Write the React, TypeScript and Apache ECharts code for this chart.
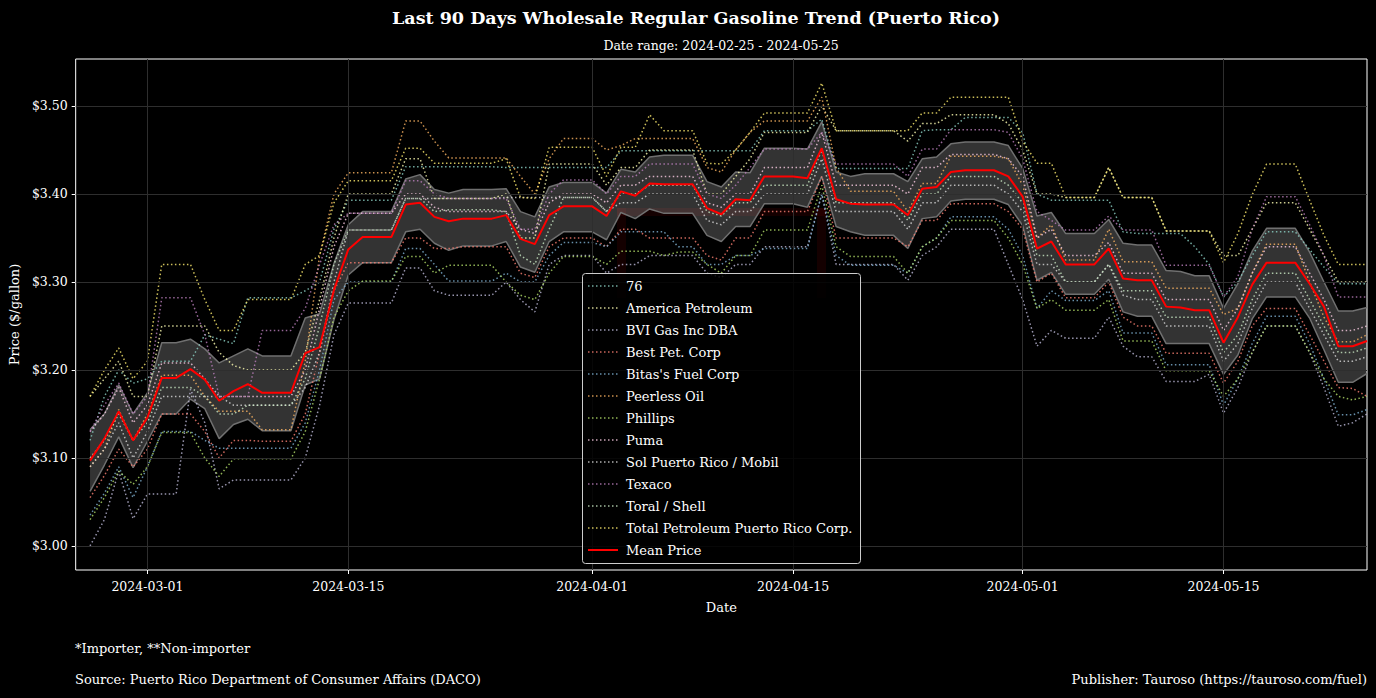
import React, { useEffect, useRef } from "react";
import * as echarts from "echarts";

const FONT = "'DejaVu Serif', serif";

const companies = [
  "76",
  "America Petroleum",
  "BVI Gas Inc DBA",
  "Best Pet. Corp",
  "Bitas's Fuel Corp",
  "Peerless Oil",
  "Phillips",
  "Puma",
  "Sol Puerto Rico / Mobil",
  "Texaco",
  "Toral / Shell",
  "Total Petroleum Puerto Rico Corp.",
];
const companyColors = [
  "#8dd3c7", "#ffffb3", "#bebada", "#fb8072", "#80b1d3", "#fdb462",
  "#b3de69", "#fccde5", "#d9d9d9", "#bc80bd", "#ccebc5", "#ffed6f",
];

// x tick labels (days since 2024-02-25)
const xTickDays = [5, 19, 36, 50, 66, 80];
const xTickLabels = ["2024-03-01", "2024-03-15", "2024-04-01", "2024-04-15", "2024-05-01", "2024-05-15"];
const yTicks = [3.0, 3.1, 3.2, 3.3, 3.4, 3.5];

// daily values 2024-02-26 .. 2024-05-25
const meanPrice = [
  3.097, 3.122, 3.153, 3.120, 3.146, 3.191, 3.191, 3.201, 3.189, 3.165, 3.176, 3.184, 3.174, 3.174, 3.174, 3.219,
  3.226, 3.291, 3.337, 3.351, 3.351, 3.351, 3.388, 3.390, 3.374, 3.369, 3.372, 3.372, 3.372, 3.376, 3.349,
  3.343, 3.376, 3.386, 3.386, 3.386, 3.375, 3.403, 3.398, 3.412, 3.411, 3.411, 3.411, 3.384, 3.377,
  3.394, 3.393, 3.420, 3.420, 3.420, 3.418, 3.452, 3.394, 3.389, 3.388, 3.388, 3.388, 3.376, 3.406, 3.408,
  3.425, 3.427, 3.427, 3.427, 3.420, 3.397, 3.338, 3.346, 3.320, 3.320, 3.320, 3.338, 3.304, 3.302, 3.302,
  3.272, 3.271, 3.268, 3.268, 3.231, 3.260, 3.297, 3.322, 3.322, 3.322, 3.298, 3.272, 3.227, 3.227, 3.233,
];
const bandUpper = [
  3.132, 3.150, 3.183, 3.150, 3.174, 3.231, 3.231, 3.235, 3.224, 3.208, 3.216, 3.224, 3.216, 3.216, 3.216, 3.259,
  3.264, 3.321, 3.365, 3.380, 3.380, 3.380, 3.417, 3.422, 3.405, 3.401, 3.405, 3.405, 3.405, 3.406, 3.380,
  3.374, 3.408, 3.413, 3.413, 3.413, 3.401, 3.428, 3.425, 3.442, 3.444, 3.444, 3.444, 3.414, 3.408,
  3.425, 3.424, 3.452, 3.452, 3.452, 3.451, 3.482, 3.425, 3.420, 3.423, 3.423, 3.423, 3.414, 3.440, 3.442,
  3.457, 3.459, 3.459, 3.459, 3.455, 3.429, 3.375, 3.379, 3.355, 3.355, 3.355, 3.371, 3.344, 3.342, 3.342,
  3.313, 3.312, 3.307, 3.307, 3.270, 3.298, 3.335, 3.361, 3.361, 3.361, 3.334, 3.300, 3.267, 3.267, 3.271,
];
const bandLower = [
  3.062, 3.092, 3.124, 3.089, 3.119, 3.150, 3.150, 3.167, 3.156, 3.122, 3.138, 3.144, 3.131, 3.131, 3.131, 3.183,
  3.190, 3.257, 3.308, 3.322, 3.322, 3.322, 3.357, 3.360, 3.344, 3.336, 3.341, 3.341, 3.341, 3.346, 3.317,
  3.311, 3.346, 3.357, 3.357, 3.357, 3.348, 3.379, 3.372, 3.383, 3.378, 3.378, 3.378, 3.353, 3.346,
  3.363, 3.363, 3.389, 3.389, 3.389, 3.385, 3.420, 3.363, 3.357, 3.353, 3.353, 3.353, 3.338, 3.372, 3.374,
  3.392, 3.394, 3.394, 3.394, 3.388, 3.364, 3.302, 3.311, 3.286, 3.286, 3.286, 3.303, 3.266, 3.261, 3.261,
  3.230, 3.230, 3.230, 3.230, 3.195, 3.217, 3.258, 3.283, 3.283, 3.283, 3.259, 3.223, 3.186, 3.186, 3.196,
];

const price76 = [
  3.12, 3.17, 3.20, 3.185, 3.19, 3.21, 3.21, 3.21, 3.24, 3.235, 3.23, 3.282, 3.282, 3.282, 3.282,
  3.29, 3.30, 3.36, 3.393, 3.393, 3.393, 3.393, 3.431, 3.431, 3.431, 3.431, 3.431, 3.431, 3.431, 3.43,
  3.43, 3.43, 3.43, 3.43, 3.43, 3.43, 3.43, 3.449, 3.449, 3.449, 3.449, 3.449, 3.449, 3.449, 3.449,
  3.449, 3.449, 3.472, 3.472, 3.472, 3.472, 3.485, 3.429, 3.429, 3.429, 3.429, 3.429, 3.429,
  3.472, 3.473, 3.473, 3.487, 3.487, 3.487, 3.487, 3.47, 3.40, 3.393, 3.393, 3.393, 3.393, 3.393, 3.357, 3.355, 3.355,
  3.355, 3.355, 3.34, 3.32, 3.283, 3.30, 3.33, 3.357, 3.357, 3.357, 3.337, 3.317, 3.298, 3.298, 3.298,
];
const priceAmerica = [
  3.17, 3.19, 3.21, 3.17, 3.17, 3.25, 3.25, 3.25, 3.25, 3.22, 3.205, 3.20, 3.20, 3.20, 3.20,
  3.22, 3.28, 3.35, 3.40, 3.40, 3.40, 3.40, 3.44, 3.44, 3.395, 3.395, 3.395, 3.395, 3.395, 3.40,
  3.35, 3.35, 3.434, 3.434, 3.434, 3.434, 3.41, 3.43, 3.43, 3.45, 3.45, 3.45, 3.45, 3.40, 3.40,
  3.42, 3.44, 3.47, 3.47, 3.47, 3.47, 3.50, 3.472, 3.472, 3.472, 3.472, 3.472, 3.46,
  3.48, 3.48, 3.49, 3.49, 3.49, 3.49, 3.48, 3.45, 3.40, 3.40, 3.396, 3.396, 3.396, 3.43, 3.396, 3.396, 3.396,
  3.358, 3.358, 3.358, 3.358, 3.33, 3.33, 3.36, 3.39, 3.39, 3.39, 3.36, 3.33, 3.30, 3.30, 3.30,
];
const priceBVI = [
  3.00, 3.03, 3.085, 3.031, 3.059, 3.059, 3.059, 3.178, 3.14, 3.065, 3.075, 3.075, 3.075, 3.075, 3.075,
  3.10, 3.16, 3.24, 3.276, 3.276, 3.276, 3.276, 3.316, 3.316, 3.29, 3.285, 3.285, 3.285, 3.285, 3.30,
  3.28, 3.266, 3.32, 3.33, 3.33, 3.33, 3.31, 3.32, 3.32, 3.33, 3.33, 3.33, 3.33, 3.31, 3.305,
  3.32, 3.32, 3.34, 3.34, 3.34, 3.34, 3.40, 3.32, 3.32, 3.32, 3.32, 3.32, 3.302,
  3.33, 3.34, 3.36, 3.36, 3.36, 3.36, 3.32, 3.28, 3.227, 3.245, 3.236, 3.236, 3.236, 3.26, 3.227, 3.215, 3.215,
  3.187, 3.187, 3.187, 3.195, 3.151, 3.18, 3.22, 3.25, 3.25, 3.25, 3.22, 3.18, 3.136, 3.14, 3.15,
];
const priceBest = [
  3.055, 3.08, 3.11, 3.09, 3.11, 3.15, 3.15, 3.15, 3.13, 3.10, 3.12, 3.12, 3.119, 3.119, 3.119,
  3.15, 3.22, 3.29, 3.322, 3.322, 3.322, 3.322, 3.35, 3.35, 3.338, 3.338, 3.34, 3.34, 3.34, 3.34,
  3.31, 3.305, 3.34, 3.35, 3.35, 3.35, 3.34, 3.36, 3.36, 3.35, 3.35, 3.35, 3.35, 3.33, 3.325,
  3.35, 3.35, 3.38, 3.38, 3.38, 3.38, 3.42, 3.35, 3.35, 3.35, 3.35, 3.35, 3.34,
  3.37, 3.37, 3.389, 3.389, 3.389, 3.389, 3.38, 3.36, 3.30, 3.31, 3.282, 3.282, 3.282, 3.30, 3.26, 3.25, 3.25,
  3.219, 3.219, 3.219, 3.219, 3.185, 3.21, 3.25, 3.27, 3.27, 3.27, 3.24, 3.21, 3.18, 3.179, 3.17,
];
const priceBitas = [
  3.035, 3.06, 3.09, 3.055, 3.09, 3.13, 3.13, 3.13, 3.12, 3.111, 3.111, 3.111, 3.111, 3.111, 3.111,
  3.14, 3.20, 3.28, 3.30, 3.30, 3.30, 3.30, 3.338, 3.338, 3.32, 3.301, 3.301, 3.301, 3.301, 3.31,
  3.30, 3.30, 3.33, 3.345, 3.345, 3.345, 3.34, 3.357, 3.357, 3.357, 3.357, 3.34, 3.34, 3.32, 3.32,
  3.33, 3.33, 3.338, 3.338, 3.338, 3.338, 3.40, 3.33, 3.319, 3.319, 3.319, 3.319, 3.31,
  3.34, 3.35, 3.374, 3.374, 3.374, 3.374, 3.36, 3.33, 3.27, 3.29, 3.279, 3.279, 3.279, 3.29, 3.242, 3.242, 3.242,
  3.206, 3.206, 3.206, 3.206, 3.16, 3.19, 3.23, 3.261, 3.261, 3.261, 3.23, 3.19, 3.149, 3.149, 3.155,
];
const pricePeerless = [
  3.09, 3.11, 3.155, 3.12, 3.15, 3.194, 3.194, 3.194, 3.17, 3.153, 3.153, 3.153, 3.132, 3.132, 3.132,
  3.21, 3.33, 3.40, 3.424, 3.424, 3.424, 3.424, 3.483, 3.483, 3.46, 3.441, 3.441, 3.441, 3.441, 3.441,
  3.42, 3.40, 3.44, 3.463, 3.463, 3.463, 3.45, 3.455, 3.463, 3.463, 3.463, 3.463, 3.463, 3.43, 3.425,
  3.45, 3.47, 3.483, 3.483, 3.483, 3.483, 3.51, 3.43, 3.403, 3.403, 3.403, 3.403, 3.38,
  3.412, 3.412, 3.443, 3.443, 3.443, 3.443, 3.44, 3.41, 3.35, 3.365, 3.325, 3.325, 3.325, 3.36, 3.323, 3.323, 3.323,
  3.293, 3.293, 3.293, 3.293, 3.263, 3.27, 3.31, 3.343, 3.343, 3.343, 3.30, 3.26, 3.232, 3.232, 3.24,
];
const pricePhillips = [
  3.03, 3.055, 3.085, 3.07, 3.09, 3.129, 3.129, 3.129, 3.10, 3.079, 3.099, 3.099, 3.099, 3.099, 3.099,
  3.13, 3.19, 3.26, 3.29, 3.301, 3.301, 3.301, 3.329, 3.329, 3.31, 3.319, 3.319, 3.319, 3.319, 3.30,
  3.285, 3.28, 3.31, 3.329, 3.329, 3.329, 3.32, 3.335, 3.335, 3.335, 3.33, 3.334, 3.334, 3.32, 3.31,
  3.33, 3.33, 3.359, 3.359, 3.359, 3.359, 3.41, 3.34, 3.329, 3.329, 3.329, 3.329, 3.31,
  3.34, 3.35, 3.37, 3.37, 3.37, 3.37, 3.35, 3.32, 3.27, 3.28, 3.268, 3.268, 3.268, 3.28, 3.233, 3.233, 3.233,
  3.199, 3.199, 3.199, 3.199, 3.17, 3.19, 3.22, 3.25, 3.25, 3.25, 3.22, 3.19, 3.17, 3.166, 3.17,
];
const pricePuma = [
  3.13, 3.15, 3.18, 3.14, 3.16, 3.208, 3.208, 3.208, 3.19, 3.17, 3.17, 3.17, 3.17, 3.17, 3.17,
  3.20, 3.27, 3.34, 3.378, 3.378, 3.378, 3.378, 3.40, 3.40, 3.385, 3.38, 3.38, 3.38, 3.38, 3.38,
  3.36, 3.355, 3.39, 3.40, 3.40, 3.40, 3.39, 3.41, 3.41, 3.42, 3.42, 3.42, 3.42, 3.39, 3.385,
  3.40, 3.40, 3.43, 3.43, 3.43, 3.43, 3.47, 3.41, 3.41, 3.41, 3.41, 3.41, 3.40,
  3.43, 3.43, 3.445, 3.445, 3.445, 3.445, 3.44, 3.42, 3.35, 3.36, 3.33, 3.33, 3.33, 3.345, 3.31, 3.31, 3.31,
  3.28, 3.28, 3.28, 3.28, 3.245, 3.27, 3.31, 3.34, 3.34, 3.34, 3.31, 3.28, 3.245, 3.245, 3.25,
];
const priceSol = [
  3.09, 3.11, 3.14, 3.10, 3.13, 3.17, 3.17, 3.17, 3.17, 3.17, 3.16, 3.16, 3.16, 3.16, 3.16,
  3.18, 3.22, 3.30, 3.359, 3.359, 3.359, 3.359, 3.395, 3.395, 3.395, 3.395, 3.395, 3.395, 3.395, 3.396,
  3.396, 3.396, 3.396, 3.396, 3.396, 3.396, 3.38, 3.39, 3.39, 3.40, 3.40, 3.40, 3.40, 3.37, 3.365,
  3.38, 3.38, 3.40, 3.40, 3.40, 3.40, 3.44, 3.38, 3.38, 3.38, 3.38, 3.38, 3.36,
  3.39, 3.39, 3.41, 3.41, 3.41, 3.41, 3.40, 3.38, 3.32, 3.32, 3.30, 3.30, 3.30, 3.32, 3.285, 3.28, 3.28,
  3.25, 3.25, 3.25, 3.25, 3.21, 3.23, 3.27, 3.30, 3.30, 3.30, 3.27, 3.24, 3.21, 3.21, 3.215,
];
const priceTexaco = [
  3.13, 3.16, 3.185, 3.15, 3.17, 3.282, 3.282, 3.282, 3.24, 3.17, 3.17, 3.17, 3.245, 3.245, 3.245,
  3.27, 3.32, 3.365, 3.378, 3.378, 3.378, 3.378, 3.415, 3.415, 3.40, 3.395, 3.395, 3.395, 3.395, 3.395,
  3.36, 3.36, 3.40, 3.416, 3.416, 3.416, 3.40, 3.42, 3.42, 3.434, 3.434, 3.434, 3.434, 3.40, 3.395,
  3.41, 3.43, 3.451, 3.451, 3.451, 3.451, 3.47, 3.434, 3.434, 3.434, 3.434, 3.434, 3.42,
  3.451, 3.451, 3.473, 3.473, 3.473, 3.473, 3.47, 3.44, 3.38, 3.37, 3.359, 3.359, 3.359, 3.375, 3.359, 3.359, 3.359,
  3.319, 3.319, 3.319, 3.319, 3.283, 3.306, 3.36, 3.397, 3.397, 3.397, 3.365, 3.33, 3.283, 3.283, 3.283,
];
const priceToral = [
  3.10, 3.12, 3.15, 3.12, 3.14, 3.18, 3.18, 3.18, 3.17, 3.15, 3.15, 3.16, 3.16, 3.16, 3.16,
  3.19, 3.25, 3.32, 3.359, 3.359, 3.359, 3.359, 3.395, 3.395, 3.38, 3.382, 3.382, 3.382, 3.382, 3.38,
  3.33, 3.32, 3.36, 3.396, 3.396, 3.396, 3.38, 3.40, 3.40, 3.41, 3.41, 3.41, 3.41, 3.38, 3.375,
  3.39, 3.39, 3.41, 3.41, 3.41, 3.41, 3.45, 3.39, 3.39, 3.39, 3.39, 3.39, 3.37,
  3.40, 3.40, 3.42, 3.42, 3.42, 3.42, 3.41, 3.39, 3.33, 3.33, 3.30, 3.30, 3.30, 3.32, 3.29, 3.29, 3.29,
  3.26, 3.26, 3.26, 3.26, 3.22, 3.24, 3.28, 3.31, 3.31, 3.31, 3.28, 3.25, 3.22, 3.22, 3.225,
];
const priceTotal = [
  3.17, 3.20, 3.225, 3.19, 3.21, 3.32, 3.32, 3.32, 3.28, 3.245, 3.245, 3.28, 3.28, 3.28, 3.28,
  3.32, 3.33, 3.39, 3.415, 3.415, 3.415, 3.415, 3.452, 3.452, 3.435, 3.435, 3.435, 3.435, 3.435, 3.44,
  3.396, 3.395, 3.453, 3.453, 3.453, 3.453, 3.42, 3.453, 3.453, 3.49, 3.472, 3.472, 3.472, 3.435, 3.434,
  3.45, 3.47, 3.492, 3.492, 3.492, 3.492, 3.526, 3.472, 3.472, 3.472, 3.472, 3.472, 3.472,
  3.492, 3.492, 3.51, 3.51, 3.51, 3.51, 3.51, 3.46, 3.435, 3.435, 3.396, 3.396, 3.396, 3.43, 3.396, 3.396, 3.396,
  3.358, 3.358, 3.358, 3.358, 3.322, 3.355, 3.399, 3.434, 3.434, 3.434, 3.393, 3.353, 3.32, 3.32, 3.32,
];

const companyPrices = [
  price76, priceAmerica, priceBVI, priceBest, priceBitas, pricePeerless,
  pricePhillips, pricePuma, priceSol, priceTexaco, priceToral, priceTotal,
];

const dayOf = (i: number) => i + 1; // days since 2024-02-25
const pairs = (arr: number[]) => arr.map((v, i) => [dayOf(i), v]);

const GRID = { left: 75, top: 59, width: 1292, height: 511 };

export default function App() {
  const ref = useRef<HTMLDivElement>(null);
  useEffect(() => {
    if (!ref.current) return;
    const chart = echarts.init(ref.current, undefined, { renderer: "svg" });

    const dotted: any = [1.5, 2.5];
    const companySeries = companies.map((name, k) => ({
      name,
      type: "line",
      data: pairs(companyPrices[k]),
      symbol: "none",
      z: 4,
      lineStyle: { color: companyColors[k], width: 1.5, type: dotted, opacity: 0.8 },
      itemStyle: { color: companyColors[k] },
    }));

    const legendItems: any[] = [];
    const legendNames = [...companies, "Mean Price"];
    legendNames.forEach((n, k) => {
      const cy = 286 + k * 22;
      const isMean = k === legendNames.length - 1;
      legendItems.push({
        type: "line",
        shape: { x1: 588, y1: cy, x2: 618, y2: cy },
        style: isMean
          ? { stroke: "#ff0000", lineWidth: 2 }
          : { stroke: companyColors[k], lineWidth: 1.5, lineDash: [1.5, 2.5], opacity: 0.8 },
        z: 101,
      });
      legendItems.push({
        type: "text",
        x: 626,
        y: cy,
        style: { text: n, fill: "#ffffff", font: `13px ${FONT}`, verticalAlign: "middle", align: "left" },
        z: 101,
      });
    });

    const option: any = {
      animation: false,
      backgroundColor: "#000000",
      grid: { ...GRID, show: true, borderColor: "#ffffff", borderWidth: 1, backgroundColor: "transparent", containLabel: false },
      xAxis: {
        type: "value",
        min: 0,
        max: 90,
        name: "Date",
        nameLocation: "middle",
        nameGap: 31,
        nameTextStyle: { color: "#ffffff", fontFamily: FONT, fontSize: 13 },
        axisLine: { show: false },
        axisTick: { show: true, length: 4, lineStyle: { color: "#ffffff" }, customValues: xTickDays },
        axisLabel: {
          color: "#ffffff",
          fontFamily: FONT,
          fontSize: 12.5,
          margin: 10,
          customValues: xTickDays,
          formatter: (v: number) => {
            const idx = xTickDays.indexOf(Math.round(v));
            return idx >= 0 ? xTickLabels[idx] : "";
          },
        },
        splitLine: { show: false },
      },
      yAxis: {
        type: "value",
        min: 2.9727,
        max: 3.5534,
        name: "Price ($/gallon)",
        nameLocation: "middle",
        nameGap: 52,
        nameRotate: 90,
        nameTextStyle: { color: "#ffffff", fontFamily: FONT, fontSize: 13 },
        axisLine: { show: false },
        axisTick: { show: true, length: 4, lineStyle: { color: "#ffffff" }, customValues: yTicks },
        axisLabel: {
          color: "#ffffff",
          fontFamily: FONT,
          fontSize: 12.5,
          margin: 8,
          customValues: yTicks,
          formatter: (v: number) => "$" + v.toFixed(2),
        },
        splitLine: { show: false },
      },
      series: [
        {
          name: "gridlines",
          type: "line",
          data: pairs(meanPrice),
          symbol: "none",
          lineStyle: { opacity: 0 },
          z: 1,
          silent: true,
          markLine: {
            silent: true,
            symbol: ["none", "none"],
            label: { show: false },
            lineStyle: { color: "#2e2e2e", width: 1, type: "solid" },
            data: [
              ...xTickDays.map((d) => ({ xAxis: d })),
              ...yTicks.map((v) => ({ yAxis: v })),
            ],
          },
        },
        {
          name: "bandFill",
          type: "custom",
          z: 2,
          silent: true,
          data: [[dayOf(0), bandUpper[0]]],
          encode: { x: 0, y: 1 },
          renderItem: (_params: any, api: any) => {
            const top = bandUpper.map((u, i) => api.coord([dayOf(i), u]));
            const bottom = bandLower.map((l, i) => api.coord([dayOf(i), l])).reverse();
            return {
              type: "polygon",
              shape: { points: top.concat(bottom) },
              style: { fill: "rgba(255,255,255,0.2)" },
            };
          },
        },
        {
          name: "bandLower",
          type: "line",
          data: pairs(bandLower),
          symbol: "none",
          z: 3,
          lineStyle: { color: "#707070", width: 1.5 },
        },
        {
          name: "bandUpper",
          type: "line",
          data: pairs(bandUpper),
          symbol: "none",
          z: 3,
          lineStyle: { color: "#707070", width: 1.5 },
        },
        ...companySeries,
        {
          name: "Mean Price",
          type: "line",
          data: pairs(meanPrice),
          symbol: "none",
          z: 6,
          lineStyle: { color: "#ff0000", width: 2 },
        },
      ],
      graphic: [
        // faint watermark
        { type: "rect", shape: { x: 617, y: 208, width: 209, height: 8 }, style: { fill: "rgba(110,0,0,0.18)" }, z: 0, silent: true },
        { type: "rect", shape: { x: 617, y: 208, width: 9, height: 90 }, style: { fill: "rgba(110,0,0,0.18)" }, z: 0, silent: true },
        { type: "rect", shape: { x: 817, y: 208, width: 9, height: 90 }, style: { fill: "rgba(110,0,0,0.18)" }, z: 0, silent: true },
        // legend
        {
          type: "rect",
          shape: { x: 582.5, y: 273.5, width: 278, height: 290, r: 3 },
          style: { fill: "rgba(0,0,0,0.85)", stroke: "#cccccc", lineWidth: 1 },
          z: 100,
        },
        ...legendItems,
        // titles
        {
          type: "text",
          x: 696,
          y: 18,
          style: {
            text: "Last 90 Days Wholesale Regular Gasoline Trend (Puerto Rico)",
            fill: "#ffffff",
            font: `bold 17.5px ${FONT}`,
            align: "center",
            verticalAlign: "middle",
          },
        },
        {
          type: "text",
          x: 721,
          y: 45,
          style: { text: "Date range: 2024-02-25 - 2024-05-25", fill: "#ffffff", font: `12.5px ${FONT}`, align: "center", verticalAlign: "middle" },
        },
        {
          type: "text",
          x: 75,
          y: 648,
          style: { text: "*Importer, **Non-importer", fill: "#ffffff", font: `13px ${FONT}`, align: "left", verticalAlign: "middle" },
        },
        {
          type: "text",
          x: 75,
          y: 679,
          style: { text: "Source: Puerto Rico Department of Consumer Affairs (DACO)", fill: "#ffffff", font: `13px ${FONT}`, align: "left", verticalAlign: "middle" },
        },
        {
          type: "text",
          x: 1367,
          y: 679,
          style: { text: "Publisher: Tauroso (https://tauroso.com/fuel)", fill: "#ffffff", font: `13px ${FONT}`, align: "right", verticalAlign: "middle" },
        },
      ],
    };
    chart.setOption(option);
    return () => chart.dispose();
  }, []);

  return (
    <div
      ref={ref}
      style={{ position: "absolute", left: 0, top: 0, width: 1376, height: 698, background: "#000000" }}
    />
  );
}
